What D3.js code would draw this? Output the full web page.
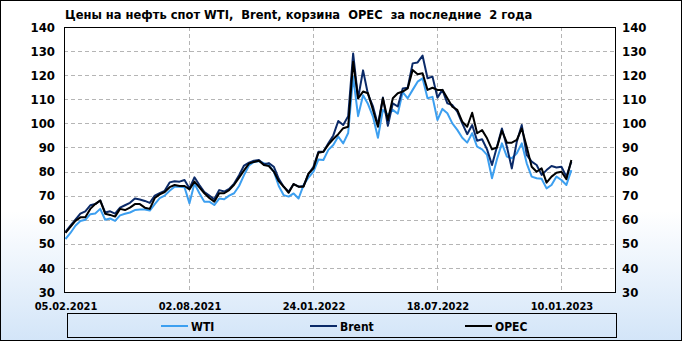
<!DOCTYPE html>
<html><head><meta charset="utf-8">
<script src="https://cdn.jsdelivr.net/npm/d3@7"></script>
<style>body{margin:0;padding:0;background:#fff}svg{display:block}</style>
</head><body>
<script>
const title = "Цены на нефть спот WTI,  Brent, корзина  OPEC  за последние  2 года";
const tickIdx = [0, 25, 50, 75, 100];
const tickLabels = ["05.02.2021", "02.08.2021", "24.01.2022", "18.07.2022", "10.01.2023"];
const yTicks = [30, 40, 50, 60, 70, 80, 90, 100, 110, 120, 130, 140];
const seriesNames = ["WTI", "Brent", "OPEC"];
const wti = [52,54.5,57.5,59.5,60,62.3,62.6,64.5,60,60.5,59.5,61.8,62.5,63,64,64.2,64.2,63.8,66.5,69,70,72,73.7,73.7,73.5,66.8,75,71,67.5,67.5,66.1,68.8,68.5,70,71,74,78.5,82.5,84,84.3,83.5,82.7,80,74,70.2,69.6,70.9,68.8,74.4,77.5,80,85,84.8,89,91,94.5,91.7,96,119.4,103,111.7,108,102.8,94,105.6,103.5,105.6,104,113,110.4,113.9,117.3,118.7,110.4,111,101.4,106,104.2,100,97.3,94,92,95.9,90.3,89.2,86.9,77.2,85.1,91.7,86.2,85.5,87.6,91.7,83.4,77.9,77.2,77,73,74.4,77.9,76.5,74.4,80.6];
const brent = [55,57.5,60,62.5,63.5,66,66.5,68,63,63.5,62.5,65,66,67,68.8,68.4,67.8,67,70,71,72,75.5,76,75.8,76.5,73,77.6,74.4,71.5,70,68.5,72.3,71.7,72.8,75,78.5,82.5,83.7,84.5,84.8,83,83.5,82,77,73.7,71.6,74.8,73.7,74,79,82,88.2,88.2,91.7,95,101,99.3,103,129,110.4,122,112,107,99.3,110.7,99,108.3,107,114.5,114.8,124.9,125.3,128.1,118.7,119.4,110.7,113.9,108.3,107.6,104.9,100,95.5,99.3,92.8,93.4,89.2,82.7,90.3,97.9,90.3,81.3,92.4,99.3,86.9,84.1,82.7,78.6,80.6,82.3,81.7,82,77.9,84.1];
const opec = [54.5,57,59.5,61,61,64.5,66.5,68,62.5,62,61.3,64.5,64,65,66.5,66.5,65,64.5,69,70.5,71.5,73.5,74.4,74,74,72.6,75.8,73.4,71,69,67.5,71,71,72.3,74.5,77.5,80.5,83.3,84,84.5,82.7,82.3,80,76,73.7,71.2,74.8,73.7,73.7,79.2,81.3,87.8,88.2,91.2,93.5,95.5,98,98.6,125.6,110.4,113.2,112.5,105.6,98.6,110.4,101.4,110.4,112.5,113.2,114.5,122.2,120.4,120.8,113.9,114.8,113.9,113.9,110.4,106.9,105.6,100.7,98.6,104.4,95.9,97.2,93.8,89.2,90,97,92,92,93.1,97.9,90.3,82,79.9,81.3,75.4,77.9,79.5,79.9,76.8,84.8];

(function () {
const W = 682, H = 341;
const colors = {WTI: "#3c9ff0", Brent: "#0b2a68", OPEC: "#000000"};
const series = [wti, brent, opec];
const font = "'DejaVu Sans Condensed', 'DejaVu Sans', sans-serif";

const svg = d3.select("body").append("svg").attr("width", W).attr("height", H);
const defs = svg.append("defs");
const grad = defs.append("linearGradient").attr("id", "bg").attr("x1", 0).attr("y1", 0).attr("x2", 0).attr("y2", 1);
grad.append("stop").attr("offset", "0%").attr("stop-color", "#ffffff");
grad.append("stop").attr("offset", "62%").attr("stop-color", "#ffffff");
grad.append("stop").attr("offset", "100%").attr("stop-color", "#d3e5f8");
svg.append("rect").attr("x", 0.5).attr("y", 0.5).attr("width", W - 1).attr("height", H - 1)
  .attr("fill", "url(#bg)").attr("stroke", "#000").attr("stroke-width", 1);

const pL = 64, pR = 615, pT = 27, pB = 292;
const x = d3.scaleLinear().domain([-0.3, 110.8]).range([pL, pR]);
const y = d3.scaleLinear().domain([30, 140]).range([pB, pT]);

svg.append("rect").attr("x", pL + 0.5).attr("y", pT + 0.5).attr("width", pR - pL).attr("height", pB - pT)
  .attr("fill", "#fff");

const g = svg.append("g");
g.selectAll("line.h").data(yTicks.slice(1, -1)).join("line")
  .attr("x1", pL).attr("x2", pR)
  .attr("y1", d => Math.round(y(d)) + 0.5).attr("y2", d => Math.round(y(d)) + 0.5)
  .attr("stroke", "#b5b5b5").attr("stroke-dasharray", "4,3");
g.selectAll("line.v").data(tickIdx.slice(1)).join("line")
  .attr("y1", pT).attr("y2", pB)
  .attr("x1", d => Math.round(x(d)) + 0.5).attr("x2", d => Math.round(x(d)) + 0.5)
  .attr("stroke", "#b5b5b5").attr("stroke-dasharray", "4,3");

const line = d3.line().x((d, i) => x(i)).y(d => y(d));
series.forEach((s, k) => {
  svg.append("path").datum(s).attr("d", line).attr("fill", "none")
    .attr("stroke", colors[seriesNames[k]]).attr("stroke-width", 2).attr("stroke-linejoin", "round");
});

svg.append("rect").attr("x", pL + 0.5).attr("y", pT + 0.5).attr("width", pR - pL).attr("height", pB - pT)
  .attr("fill", "none").attr("stroke", "#000");

const yl = d3.axisLeft(y).tickValues(yTicks).tickSize(0).tickPadding(9);
const ga = svg.append("g").attr("transform", `translate(${pL},0)`).call(yl);
const yr = d3.axisRight(y).tickValues(yTicks).tickSize(0).tickPadding(7);
const gb = svg.append("g").attr("transform", `translate(${pR},0)`).call(yr);
const xa = d3.axisBottom(x).tickValues(tickIdx).tickFormat((d, i) => tickLabels[i]).tickSize(0).tickPadding(10);
const gc = svg.append("g").attr("transform", `translate(0,${pB})`).call(xa);
[ga, gb, gc].forEach(a => {
  a.select(".domain").remove();
  a.selectAll("text").attr("fill", "#000").style("font-family", font).style("font-weight", "bold");
});
ga.selectAll("text").style("font-size", "13px");
gb.selectAll("text").style("font-size", "13px");
gc.selectAll("text").style("font-size", "11px");

svg.append("text").attr("x", 65).attr("y", 19).text(title)
  .style("font-family", font).style("font-weight", "bold").style("font-size", "12.8px").attr("fill", "#000")
  .style("white-space", "pre");

svg.append("rect").attr("x", 67.5).attr("y", 313.5).attr("width", 549).attr("height", 24)
  .attr("fill", "none").attr("stroke", "#000");
const legX = [161, 310, 465];
seriesNames.forEach((n, k) => {
  svg.append("line").attr("x1", legX[k]).attr("x2", legX[k] + 27).attr("y1", 326).attr("y2", 326)
    .attr("stroke", colors[n]).attr("stroke-width", 2);
  svg.append("text").attr("x", legX[k] + 30).attr("y", 330.5).text(n)
    .style("font-family", font).style("font-weight", "bold").style("font-size", "12px").attr("fill", "#000");
});
})();
</script>
</body></html>
